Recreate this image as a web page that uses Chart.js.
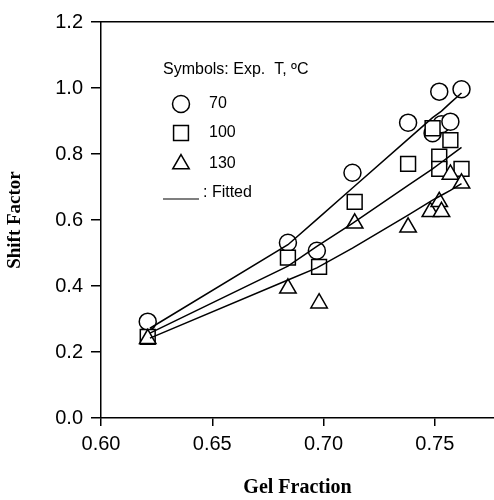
<!DOCTYPE html>
<html>
<head>
<meta charset="utf-8">
<script src="https://cdn.jsdelivr.net/npm/chart.js@4/dist/chart.umd.min.js"></script>
<style>
  html, body { margin: 0; padding: 0; background: #fff; overflow: hidden; }
  #wrap { width: 494px; height: 500px; position: relative; }
  canvas { display: block; }
</style>
</head>
<body>
<div id="wrap"><canvas id="shiftChart"></canvas></div>
<script>
// measured points, gel fraction vs shift factor
const x70 = [0.621, 0.684, 0.697, 0.713, 0.738, 0.749, 0.752, 0.753, 0.757, 0.762];
const y70 = [0.292, 0.531, 0.507, 0.743, 0.895, 0.863, 0.989, 0.890, 0.898, 0.996];
const x100 = [0.621, 0.684, 0.698, 0.714, 0.738, 0.749, 0.752, 0.752, 0.757, 0.762];
const y100 = [0.246, 0.486, 0.458, 0.655, 0.770, 0.878, 0.792, 0.755, 0.842, 0.755];
const x130 = [0.621, 0.684, 0.698, 0.714, 0.738, 0.748, 0.752, 0.753, 0.757, 0.762];
const y130 = [0.240, 0.393, 0.348, 0.590, 0.578, 0.625, 0.655, 0.625, 0.738, 0.711];

// fitted curves
const xFit = [0.622, 0.684, 0.697, 0.713, 0.738, 0.749, 0.753, 0.757, 0.762];
const fit70 = [0.272, 0.525, 0.602, 0.697, 0.845, 0.910, 0.930, 0.955, 0.985];
const fit100 = [0.257, 0.460, 0.520, 0.590, 0.705, 0.755, 0.775, 0.795, 0.820];
const fit130 = [0.242, 0.418, 0.455, 0.515, 0.615, 0.660, 0.675, 0.690, 0.710];

const xTicks = [0.60, 0.65, 0.70, 0.75];
const yTicks = [0.0, 0.2, 0.4, 0.6, 0.8, 1.0, 1.2];

function pts(xs, ys) {
    return xs.map((x, i) => ({ x: x, y: ys[i] }));
}

function markerSet(label, xs, ys, style, radius, order) {
    return {
        label: label,
        data: pts(xs, ys),
        showLine: false,
        pointStyle: style,
        pointRadius: radius,
        pointHoverRadius: radius,
        pointBorderColor: '#000',
        pointBackgroundColor: '#fff',
        pointBorderWidth: 1.5,
        order: order
    };
}

function fitSet(ys) {
    return {
        label: 'Fitted',
        data: pts(xFit, ys),
        showLine: true,
        borderColor: '#000',
        borderWidth: 1.5,
        pointRadius: 0,
        tension: 0,
        order: 0
    };
}

const sans = 'Liberation Sans, Arial, sans-serif';
const serif = 'Liberation Serif, Times New Roman, serif';

// legend drawn inside the plot
const legendBox = {
    id: 'legendBox',
    afterDatasetsDraw(chart) {
        const ctx = chart.ctx;
        ctx.save();
        ctx.fillStyle = '#000';
        ctx.strokeStyle = '#000';
        ctx.font = '16px ' + sans;
        ctx.textBaseline = 'middle';
        ctx.textAlign = 'left';
        ctx.fillText('Symbols: Exp.  T, \u00baC', 163, 70);
        const rows = [
            { t: '70', s: 'circle', r: 8.5, y: 104 },
            { t: '100', s: 'rect', r: 10.5, y: 133 },
            { t: '130', s: 'triangle', r: 9.5, y: 164 }
        ];
        rows.forEach(row => {
            ctx.fillStyle = '#fff';
            ctx.lineWidth = 1.5;
            Chart.helpers.drawPoint(ctx, { pointStyle: row.s, radius: row.r, borderWidth: 1.5, rotation: 0 }, 181, row.y);
            ctx.fillStyle = '#000';
            ctx.fillText(row.t, 209, row.y);
        });
        ctx.lineWidth = 1.2;
        ctx.beginPath();
        ctx.moveTo(163, 199);
        ctx.lineTo(199, 199);
        ctx.stroke();
        ctx.fillText(': Fitted', 203, 193);
        ctx.restore();
    }
};

const ctx = document.getElementById('shiftChart').getContext('2d');
new Chart(ctx, {
    type: 'scatter',
    data: {
        datasets: [
            fitSet(fit70),
            fitSet(fit100),
            fitSet(fit130),
            markerSet('70', x70, y70, 'circle', 8.5, 3),
            markerSet('100', x100, y100, 'rect', 10.5, 2),
            markerSet('130', x130, y130, 'triangle', 9.5, 1)
        ]
    },
    options: {
        responsive: true,
        maintainAspectRatio: false,
        animation: false,
        layout: { autoPadding: false, padding: { top: 22, right: 0, left: 0, bottom: 0 } },
        plugins: {
            legend: { display: false },
            tooltip: { enabled: false }
        },
        scales: {
            x: {
                type: 'linear',
                min: 0.60,
                max: 0.7766,
                afterBuildTicks: s => { s.ticks = xTicks.map(v => ({ value: v })); },
                afterFit: s => { s.height = 82; },
                ticks: {
                    color: '#000',
                    font: { family: sans, size: 20 },
                    padding: 6,
                    maxRotation: 0,
                    callback: v => v.toFixed(2)
                },
                grid: { drawOnChartArea: false, tickLength: 8, color: '#000', lineWidth: 1.5 },
                border: { color: '#000', width: 1.5 },
                title: {
                    display: true,
                    text: 'Gel Fraction',
                    color: '#000',
                    font: { family: serif, size: 20, weight: 'bold' },
                    padding: { top: 4, bottom: 0 }
                }
            },
            xTop: {
                type: 'linear',
                position: 'top',
                min: 0.60,
                max: 0.7766,
                afterFit: s => { s.height = 0; },
                ticks: { display: false },
                grid: { display: false },
                border: { color: '#000', width: 1.5 }
            },
            y: {
                min: 0,
                max: 1.2,
                afterBuildTicks: s => { s.ticks = yTicks.map(v => ({ value: v })); },
                afterFit: s => { s.width = 101; },
                ticks: {
                    color: '#000',
                    font: { family: sans, size: 20 },
                    padding: 8,
                    callback: v => v.toFixed(1)
                },
                grid: { drawOnChartArea: false, tickLength: 10, color: '#000', lineWidth: 1.5 },
                border: { color: '#000', width: 1.5 },
                title: {
                    display: true,
                    text: 'Shift Factor',
                    color: '#000',
                    font: { family: serif, size: 19, weight: 'bold' },
                    padding: { top: 4, bottom: 0 }
                }
            }
        }
    },
    plugins: [legendBox]
});
</script>
</body>
</html>
